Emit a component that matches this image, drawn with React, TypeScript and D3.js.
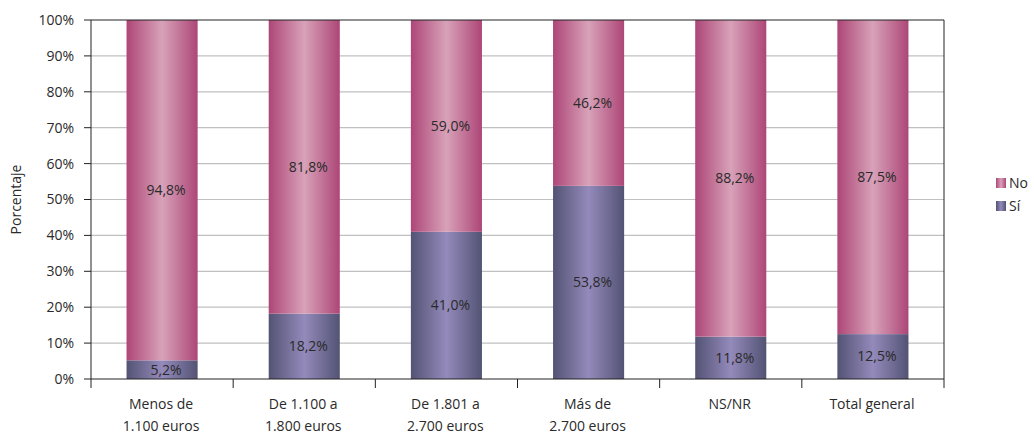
import React from "react";
import * as d3 from "d3";

const categories: string[][] = [
  ["Menos de", "1.100 euros"],
  ["De 1.100 a", "1.800 euros"],
  ["De 1.801 a", "2.700 euros"],
  ["Más de", "2.700 euros"],
  ["NS/NR"],
  ["Total general"],
];
const siValues = [5.2, 18.2, 41.0, 53.8, 11.8, 12.5];
const noValues = [94.8, 81.8, 59.0, 46.2, 88.2, 87.5];
const yTicks = [0, 10, 20, 30, 40, 50, 60, 70, 80, 90, 100];
const seriesNames = ["No", "Sí"];

const W = 1034, H = 436;
const left = 91, right = 944, top = 20, bottom = 379;
const font = "'Open Sans', 'DejaVu Sans', sans-serif";
const fmt = (v: number) => v.toFixed(1).replace(".", ",") + "%";

export default function App() {
  const x = d3.scaleBand<number>().domain(d3.range(categories.length)).range([left, right]).paddingInner(0.5).paddingOuter(0.25);
  const y = d3.scaleLinear().domain([0, 100]).range([bottom, top]);
  const step = (right - left) / categories.length;
  return (
    <svg width={W} height={H} style={{ position: "absolute", left: 0, top: 0, display: "block" }}>
      <defs>
        <linearGradient id="gNo" x1="0" x2="1" y1="0" y2="0">
          <stop offset="0" stopColor="#ad4677" />
          <stop offset="0.5" stopColor="#d8a2b9" />
          <stop offset="1" stopColor="#ad4677" />
        </linearGradient>
        <linearGradient id="gSi" x1="0" x2="1" y1="0" y2="0">
          <stop offset="0" stopColor="#535374" />
          <stop offset="0.5" stopColor="#948abb" />
          <stop offset="1" stopColor="#535374" />
        </linearGradient>
      </defs>
      {yTicks.map((t) => (
        <g key={t}>
          {t > 0 && t < 100 && (
            <line x1={left} x2={right} y1={y(t)} y2={y(t)} stroke="#c0c0c0" strokeWidth={1.2} />
          )}
          <line x1={left - 7} x2={left} y1={y(t)} y2={y(t)} stroke="#222" />
          <text x={left - 17} y={y(t)} dy="0.35em" textAnchor="end" fontFamily={font} fontSize={14} fill="#2a2a2a">
            {t}%
          </text>
        </g>
      ))}
      {categories.map((c, i) => {
        const bx = x(i)!;
        const bw = x.bandwidth();
        const cx = bx + bw / 2;
        return (
          <g key={i}>
            <rect x={bx} y={y(siValues[i])} width={bw} height={y(0) - y(siValues[i])} fill="url(#gSi)" />
            <rect x={bx} y={y(100)} width={bw} height={y(siValues[i]) - y(100)} fill="url(#gNo)" />
            <text x={cx + 4} y={(y(100) + y(siValues[i])) / 2} dy="0.35em" textAnchor="middle" fontFamily={font} fontSize={14} fill="#2a2a2a">
              {fmt(noValues[i])}
            </text>
            <text x={cx + 4} y={(y(0) + y(siValues[i])) / 2} dy="0.35em" textAnchor="middle" fontFamily={font} fontSize={14} fill="#2a2a2a">
              {fmt(siValues[i])}
            </text>
            {c.map((line, k) => (
              <text key={k} x={cx - 1} y={404 + k * 22} dy="0.35em" textAnchor="middle" fontFamily={font} fontSize={14} fill="#2a2a2a">
                {line}
              </text>
            ))}
          </g>
        );
      })}
      {d3.range(categories.length + 1).map((i) => (
        <line key={i} x1={left + i * step} x2={left + i * step} y1={bottom} y2={bottom + 9} stroke="#222" />
      ))}
      <line x1={left} x2={right} y1={top} y2={top} stroke="#222" />
      <line x1={right} x2={right} y1={top} y2={bottom} stroke="#222" />
      <line x1={left} x2={left} y1={top} y2={bottom} stroke="#222" />
      <line x1={left} x2={right} y1={bottom} y2={bottom} stroke="#222" />
      <text transform={`translate(21,${(top + bottom) / 2}) rotate(-90)`} textAnchor="middle" fontFamily={font} fontSize={14} fill="#2a2a2a">
        Porcentaje
      </text>
      {seriesNames.map((s, k) => (
        <g key={s}>
          <rect x={996} y={178 + k * 23} width={10} height={10} fill={k === 0 ? "url(#gNo)" : "url(#gSi)"} />
          <text x={1009} y={183 + k * 23} dy="0.35em" fontFamily={font} fontSize={14} fill="#2a2a2a">
            {s}
          </text>
        </g>
      ))}
    </svg>
  );
}
